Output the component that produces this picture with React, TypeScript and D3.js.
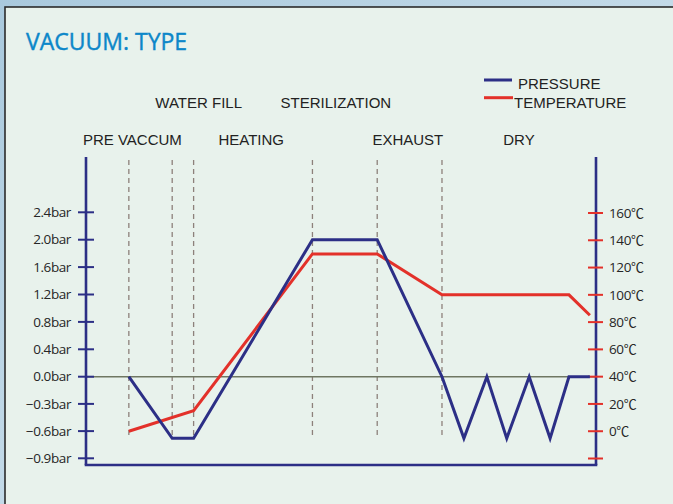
import React from 'react';
import * as d3 from 'd3';

// x is process time in arbitrary units (0..100)
const pressureTime = [8.4, 16.9, 21.1, 44.4, 57.1, 69.8, 74.1, 78.6, 82.5, 86.9, 91.0, 94.7, 98.8];
const pressureBar = [0, -0.68, -0.68, 2.0, 2.0, 0, -0.68, 0, -0.68, 0, -0.68, 0, 0];

const tempTime = [8.4, 21.1, 44.4, 57.1, 69.8, 94.7, 98.8];
const tempC = [0, 15, 130, 130, 100, 100, 85];

const phaseBounds = [8.4, 16.9, 21.1, 44.4, 57.1, 69.8];

const stageRow1 = ['WATER FILL', 'STERILIZATION'];
const stageRow1At = [22.1, 49.0];
const stageRow2 = ['PRE VACCUM', 'HEATING', 'EXHAUST', 'DRY'];
const stageRow2At = [9.1, 32.4, 63.1, 84.9];

const pressureTicks = [-0.9, -0.6, -0.3, 0, 0.4, 0.8, 1.2, 1.6, 2.0, 2.4];
const tempTicks = [-20, 0, 20, 40, 60, 80, 100, 120, 140, 160];

const seriesNames = ['PRESSURE', 'TEMPERATURE'];

const W = 673;
const H = 504;
const NAVY = '#2c2f86';
const RED = '#e3312a';

const App = () => {
  const x = d3.scaleLinear().domain([0, 100]).range([86, 596]);
  // pressure axis steps are uneven: 0.3 below zero, 0.4 above
  const yP = d3.scaleLinear().domain([-0.9, 0, 2.4]).range([458.3, 376.7, 212.3]);
  const yT = d3.scaleLinear().domain([-20, 160]).range([458.5, 213]);

  const pLine = d3.line<number>()
    .x((_, i) => x(pressureTime[i]))
    .y(d => yP(d));
  const tLine = d3.line<number>()
    .x((_, i) => x(tempTime[i]))
    .y(d => yT(d));

  const axisTop = 157;
  const axisBottom = 465;
  const left = x(0);
  const right = x(100);

  return (
    <svg width={W} height={H} style={{ position: 'absolute', left: 0, top: 0 }}>
      <defs>
        <linearGradient id="sky" x1="0" y1="0" x2="1" y2="1">
          <stop offset="0" stopColor="#a9c9dd" />
          <stop offset="0.5" stopColor="#c3dae8" />
          <stop offset="1" stopColor="#9fc1d8" />
        </linearGradient>
      </defs>
      <rect width={W} height={H} fill="url(#sky)" />
      <rect x={5} y={7} width={W} height={H} fill="#e8f2ec" stroke="#2b2b2b" strokeWidth={1.6} />

      <text x={26} y={50} fill="#0c87c9" stroke="#0c87c9" strokeWidth={0.4}
        fontFamily="Open Sans" fontSize={23}>
        VACUUM: TYPE
      </text>

      {/* legend */}
      <g fontFamily="Liberation Sans" fontSize={15} fill="#222">
        <line x1={484} x2={512} y1={80} y2={80} stroke={NAVY} strokeWidth={3} />
        <text x={518} y={89}>{seriesNames[0]}</text>
        <line x1={484} x2={513} y1={97.7} y2={97.7} stroke={RED} strokeWidth={3} />
        <text x={514} y={108}>{seriesNames[1]}</text>
      </g>

      {/* stage labels */}
      <g fontFamily="Liberation Sans" fontSize={15} fill="#222" textAnchor="middle">
        {stageRow1.map((s, i) => (
          <text key={s} x={x(stageRow1At[i])} y={108}>{s}</text>
        ))}
        {stageRow2.map((s, i) => (
          <text key={s} x={x(stageRow2At[i])} y={145}>{s}</text>
        ))}
      </g>

      {/* phase dividers */}
      {phaseBounds.map(t => (
        <line key={t} x1={x(t)} x2={x(t)} y1={160} y2={439}
          stroke="#8d817b" strokeWidth={1.3} strokeDasharray="5,4" />
      ))}

      {/* zero line */}
      <line x1={left} x2={right} y1={yP(0)} y2={yP(0)} stroke="#6f7762" strokeWidth={1.5} />

      {/* axes */}
      <line x1={left} x2={left} y1={axisTop} y2={axisBottom} stroke={NAVY} strokeWidth={2.6} />
      <line x1={right} x2={right} y1={axisTop} y2={axisBottom} stroke={NAVY} strokeWidth={2.6} />
      <line x1={left - 1.3} x2={right + 1.3} y1={axisBottom} y2={axisBottom} stroke={NAVY} strokeWidth={2.6} />

      <g fontFamily="Open Sans" fontSize={13.5} fill="#262626">
        {pressureTicks.map(v => (
          <g key={v}>
            <line x1={left - 8} x2={left + 8} y1={yP(v)} y2={yP(v)} stroke={NAVY} strokeWidth={2} />
            <text x={left - 15} y={yP(v)} dy="0.35em" textAnchor="end" letterSpacing={-0.4}>
              {(v < 0 ? '\u2212' : '') + Math.abs(v).toFixed(1) + 'bar'}
            </text>
          </g>
        ))}
        {tempTicks.map(v => (
          <g key={v}>
            <line x1={right - 8} x2={right + 7} y1={yT(v)} y2={yT(v)} stroke={RED} strokeWidth={2} />
            {v >= 0 && (
              <text x={right + 13} y={yT(v)} dy="0.35em" letterSpacing={-0.4}>
                {String(v)}
                <tspan fontFamily="Noto Sans CJK SC" fontSize={13}>{'\u2103'}</tspan>
              </text>
            )}
          </g>
        ))}
      </g>

      <path d={tLine(tempC) ?? ''} fill="none" stroke={RED} strokeWidth={3} strokeLinejoin="miter" />
      <path d={pLine(pressureBar) ?? ''} fill="none" stroke={NAVY} strokeWidth={3} strokeLinejoin="miter" />
    </svg>
  );
};

export default App;
